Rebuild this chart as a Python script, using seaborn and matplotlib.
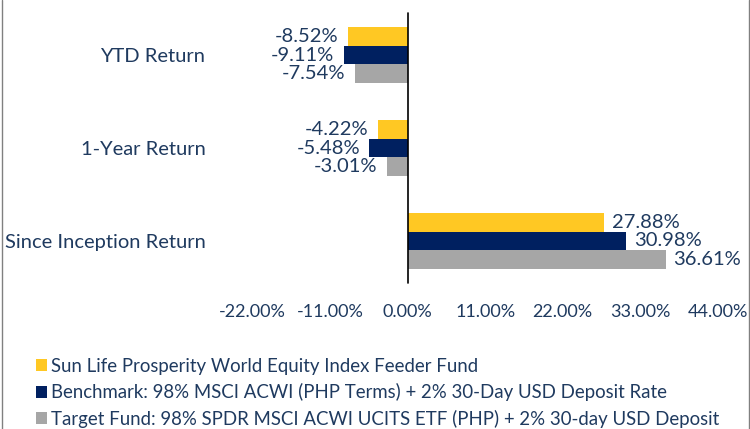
import pandas as pd
import matplotlib.pyplot as plt
import seaborn as sns

# Data
categories = ['YTD Return', '1-Year Return', 'Since Inception Return']
series = ['Sun Life Prosperity World Equity Index Feeder Fund',
          'Benchmark: 98% MSCI ACWI (PHP Terms) + 2% 30-Day USD Deposit Rate',
          'Target Fund: 98% SPDR MSCI ACWI UCITS ETF (PHP) + 2% 30-day USD Deposit']
fund_vals = [-8.52, -4.22, 27.88]
bench_vals = [-9.11, -5.48, 30.98]
target_vals = [-7.54, -3.01, 36.61]
x_ticks = [-22, -11, 0, 11, 22, 33, 44]

colors = ['#FFC823', '#002060', '#A6A6A6']
text_color = '#1F3A5F'

rows = []
for s, vals in zip(series, [fund_vals, bench_vals, target_vals]):
    for c, v in zip(categories, vals):
        rows.append({'category': c, 'series': s, 'value': v})
df = pd.DataFrame(rows)

sns.set_style('white')
plt.rcParams['font.family'] = ['Lato', 'DejaVu Sans']

fig = plt.figure(figsize=(7.5, 4.29), dpi=100)
ax = fig.add_axes([0.337, 0.33, 0.62, 0.65])

sns.barplot(data=df, y='category', x='value', hue='series', orient='h',
            palette=colors, saturation=1, width=0.6, linewidth=0, ax=ax,
            legend=True)

# data labels
for container in ax.containers:
    for bar in container:
        w = bar.get_width()
        y = bar.get_y() + bar.get_height() / 2
        if w < 0:
            ax.text(w - 1.3, y, f'{w:.2f}%', ha='right', va='center',
                    fontsize=14.5, color=text_color)
        else:
            ax.text(w + 1.1, y, f'{w:.2f}%', ha='left', va='center',
                    fontsize=14.5, color=text_color)

ax.axvline(0, color='black', lw=1.2, ymin=0.015, ymax=0.985)
ax.set_xlim(-22, 44)
ax.set_xticks(x_ticks)
ax.set_xticklabels([f'{t:.2f}%' for t in x_ticks])
ax.set_xlabel('')
ax.set_ylabel('')
ax.tick_params(axis='x', length=0, pad=12, labelsize=13, labelcolor=text_color)
ax.tick_params(axis='y', length=0, pad=34, labelsize=14.5, labelcolor=text_color)
sns.despine(ax=ax, left=True, bottom=True)

handles, labels = ax.get_legend_handles_labels()
ax.get_legend().remove()
fig.legend(handles, labels, loc='lower left', bbox_to_anchor=(0.04, -0.01),
           frameon=False, fontsize=13.4, labelcolor=text_color,
           handlelength=0.6, handleheight=0.6, handletextpad=0.25,
           labelspacing=0.45, borderaxespad=0, borderpad=0.3)

# frame edges on the left and right of the picture
fig.add_artist(plt.Line2D([0.002, 0.002], [0, 1], transform=fig.transFigure,
                          color='#808080', lw=1))
fig.add_artist(plt.Line2D([0.998, 0.998], [0, 1], transform=fig.transFigure,
                          color='#808080', lw=1))

fig.savefig('out.png', dpi=100)
